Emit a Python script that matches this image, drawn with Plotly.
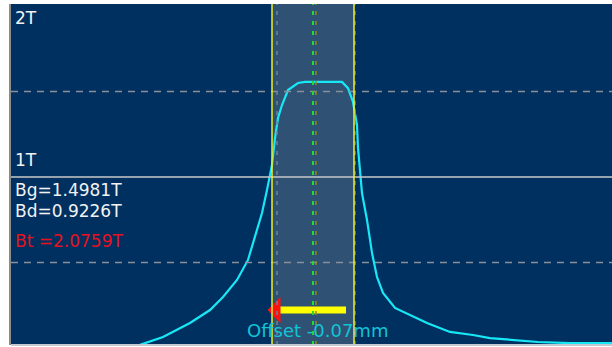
import plotly.graph_objects as go

# Field profile (position index along sensor, flux density in Tesla)
pos = [129, 152, 179, 199, 212, 226, 237, 244, 251, 256, 261, 264, 267, 271, 277,
       287, 294, 331, 337, 342, 346, 347, 349, 351, 356, 361, 366, 372, 384, 399,
       416, 439, 462, 479, 501, 527, 559, 601]
field = [0.018, 0.064, 0.146, 0.222, 0.298, 0.398, 0.515, 0.649, 0.789, 0.924, 1.070,
         1.228, 1.345, 1.421, 1.509, 1.550, 1.556, 1.556, 1.520, 1.439, 1.304, 1.170,
         1.012, 0.906, 0.749, 0.556, 0.415, 0.322, 0.234, 0.193, 0.146, 0.094, 0.076,
         0.058, 0.047, 0.035, 0.029, 0.029]

# Markers / reference positions
pole_edges = [261, 343]          # yellow lines
inner_marks = [266, 344]         # grey dashed
center_mark = 302                # green dashed
measured_center = 305            # olive dashed
grid_levels = [0.5, 1.5]         # dashed horizontal
ref_level = 1.0                  # solid horizontal
arrow_tail = 335
arrow_head = 269
arrow_tip = 257
arrow_y = 0.222

labels = ["2T", "1T"]
label_y = [1.93, 1.10]
readings = ["Bg=1.4981T", "Bd=0.9226T"]
reading_y = [0.925, 0.80]
bt_text = "Bt =2.0759T"
bt_y = 0.626
offset_text = "Offset -0.07mm"

BG = "#003060"
fig = go.Figure()

shapes = []
# shaded pole region
shapes.append(dict(type="rect", xref="x", yref="paper", x0=pole_edges[0], x1=pole_edges[1],
                   y0=0, y1=1, fillcolor="rgba(130,140,150,0.36)", line_width=0, layer="below"))
for lv in grid_levels:
    shapes.append(dict(type="line", xref="paper", yref="y", x0=0, x1=1, y0=lv, y1=lv,
                       line=dict(color="#8a8f99", width=1.5, dash="7px,6px")))
shapes.append(dict(type="line", xref="paper", yref="y", x0=0, x1=1, y0=ref_level, y1=ref_level,
                   line=dict(color="#c8c8c8", width=1.5)))
for xm in inner_marks:
    shapes.append(dict(type="line", xref="x", yref="paper", x0=xm, x1=xm, y0=0, y1=1,
                       line=dict(color="#6f8294", width=1.5, dash="4px,6px")))
shapes.append(dict(type="line", xref="x", yref="paper", x0=center_mark, x1=center_mark, y0=0, y1=1,
                   line=dict(color="#22dd22", width=2, dash="4px,6px")))
shapes.append(dict(type="line", xref="x", yref="paper", x0=measured_center, x1=measured_center, y0=0, y1=1,
                   line=dict(color="#8c8a1e", width=1.5, dash="4px,6px")))
for xe in pole_edges:
    shapes.append(dict(type="line", xref="x", yref="paper", x0=xe, x1=xe, y0=0, y1=1,
                       line=dict(color="#f0f020", width=1.5)))

fig.add_trace(go.Scatter(x=pos, y=field, mode="lines",
                         line=dict(color="#18e8f6", width=2.2), hoverinfo="skip"))

# arrow
fig.add_trace(go.Scatter(x=[arrow_head, arrow_tail], y=[arrow_y, arrow_y], mode="lines",
                         line=dict(color="#ffff00", width=7), hoverinfo="skip"))
fig.add_trace(go.Scatter(x=[arrow_tip, arrow_head, arrow_head, arrow_tip],
                         y=[arrow_y, arrow_y + 0.072, arrow_y - 0.072, arrow_y],
                         mode="lines", fill="toself", fillcolor="#ff1010",
                         line=dict(color="#ff1010", width=1), hoverinfo="skip"))

FONT = "DejaVu Sans"
ann = []
for t, yv in zip(labels, label_y):
    ann.append(dict(x=2, y=yv, xref="x", yref="y", text=t, showarrow=False, xanchor="left",
                    yanchor="middle", font=dict(family=FONT, size=17, color="#f2f2f2")))
for t, yv in zip(readings, reading_y):
    ann.append(dict(x=2, y=yv, xref="x", yref="y", text=t, showarrow=False, xanchor="left",
                    yanchor="middle", font=dict(family=FONT, size=17, color="#f2f2f2")))
ann.append(dict(x=2, y=bt_y, xref="x", yref="y", text=bt_text, showarrow=False, xanchor="left",
                yanchor="middle", font=dict(family=FONT, size=17, color="#e8101e")))
ann.append(dict(x=measured_center + 1, y=0.105, xref="x", yref="y", text=offset_text, showarrow=False,
                xanchor="center", yanchor="middle", font=dict(family=FONT, size=18, color="#10c4d6")))

fig.update_layout(
    width=612, height=347,
    margin=dict(l=11, r=0, t=4, b=2),
    paper_bgcolor="white", plot_bgcolor=BG,
    showlegend=False, shapes=shapes, annotations=ann,
    xaxis=dict(range=[0, 601], showgrid=False, zeroline=False, showticklabels=False,
               ticks="", showline=False, fixedrange=True),
    yaxis=dict(range=[0.0175, 2.012], showgrid=False, zeroline=False, showticklabels=False,
               ticks="", showline=True, linecolor="#8c8c8c", linewidth=2, mirror=False,
               fixedrange=True),
)
fig.add_shape(type="line", xref="paper", yref="paper", x0=0, x1=1, y0=0, y1=0,
              line=dict(color="#c4c8d0", width=2))

fig.write_html("out.html", config={"displayModeBar": False},
               post_script="document.body.style.margin='0px';document.body.style.overflow='hidden';")
